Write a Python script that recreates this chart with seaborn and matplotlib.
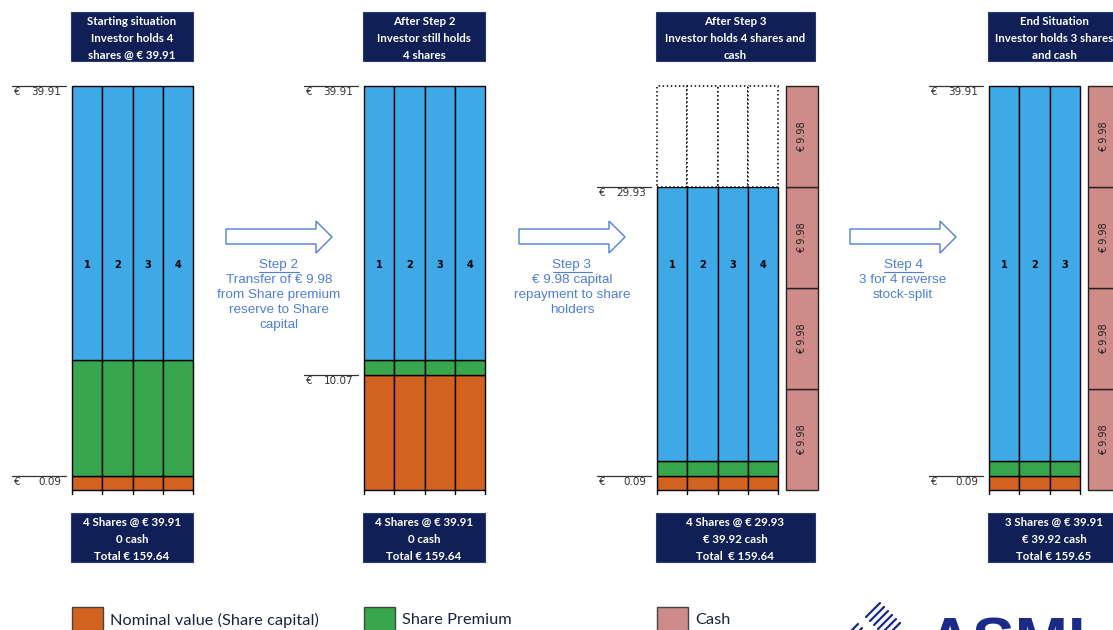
import matplotlib
matplotlib.use("Agg")
import matplotlib.pyplot as plt
import seaborn as sns
from matplotlib.patches import Rectangle, Polygon

# ---------------- data ----------------
panel_titles = [
    "Starting situation\nInvestor holds 4\nshares @ € 39.91",
    "After Step 2\nInvestor still holds\n4 shares",
    "After Step 3\nInvestor holds 4 shares and\ncash",
    "End Situation\nInvestor holds 3 shares\nand cash",
]
footer_texts = [
    "4 Shares @ € 39.91\n0 cash\nTotal € 159.64",
    "4 Shares @ € 39.91\n0 cash\nTotal € 159.64",
    "4 Shares @ € 29.93\n€ 39.92 cash\nTotal  € 159.64",
    "3 Shares @ € 39.91\n€ 39.92 cash\nTotal € 159.65",
]
share_counts = [4, 4, 4, 3]
share_price = [39.91, 39.91, 29.93, 39.91]          # top of blue block (€)
nominal_value = [0.09, 10.07, 0.09, 0.09]            # labelled nominal value (€)
nominal_drawn_top = [1.4, 11.36, 1.4, 1.4]           # schematic top of orange block
premium_drawn_top = [12.85, 12.85, 2.87, 2.87]       # schematic top of green block
removed_value_top = [None, None, 39.91, None]        # dotted (repaid) part
cash_segments = [[], [], [9.98, 9.98, 9.98, 9.98], [9.98, 9.98, 9.98, 9.98]]
step_texts = [
    ["Step 2", "Transfer of € 9.98", "from Share premium", "reserve to Share", "capital"],
    ["Step 3", "€ 9.98 capital", "repayment to share", "holders"],
    ["Step 4", "3 for 4 reverse", "stock-split"],
]
legend_labels = ["Nominal value (Share capital)", "Share Premium", "Cash"]

# ---------------- style ----------------
sns.set_theme(style="white")
plt.rcParams["font.family"] = ["Lato", "DejaVu Sans"]
c_nominal, c_premium, c_value, c_cash = sns.color_palette(
    ["#d2621f", "#37a64c", "#3fa8e7", "#cf8b88"])
navy = "#101f55"
step_blue = "#4f7fd9"

W, H = 1113, 630
fig = plt.figure(figsize=(W / 100, H / 100), dpi=100)
ax = fig.add_axes([0, 0, 1, 1])
PX = 10.12          # pixels per euro
BASE = 490          # pixel row of zero
ax.set_xlim(0, W)
ax.set_ylim((BASE - H) / PX, BASE / PX)
ax.axis("off")


def Y(p):  # layout pixel row -> data y
    return (BASE - p) / PX


panel_left = [72, 364, 657, 989]
col_w = 30.3
box_w = [122, 122, 159, 132]

for i in range(4):
    n = share_counts[i]
    xs = [panel_left[i] + j * col_w for j in range(n)]
    kw = dict(width=col_w, align="edge", edgecolor="black", linewidth=1.0, zorder=2)
    ax.bar(xs, [nominal_drawn_top[i]] * n, bottom=0, color=c_nominal, **kw)
    ax.bar(xs, [premium_drawn_top[i] - nominal_drawn_top[i]] * n,
           bottom=nominal_drawn_top[i], color=c_premium, **kw)
    ax.bar(xs, [share_price[i] - premium_drawn_top[i]] * n,
           bottom=premium_drawn_top[i], color=c_value, **kw)
    if removed_value_top[i] is not None:
        ax.bar(xs, [removed_value_top[i] - share_price[i]] * n, bottom=share_price[i],
               width=col_w, align="edge", color="white", edgecolor="black",
               linewidth=1.1, linestyle=":", zorder=2)
    # small ticks under bars
    for j in range(n + 1):
        xx = panel_left[i] + j * col_w
        ax.plot([xx, xx], [0, Y(494)], color="black", lw=1, zorder=1)
    # share numbers
    for j in range(n):
        ax.text(xs[j] + col_w / 2, Y(265), str(j + 1), ha="center", va="center",
                fontsize=7, fontweight="bold", color="black", zorder=3,
                family=["DejaVu Sans"])
    # cash column
    if cash_segments[i]:
        cx = panel_left[i] + n * col_w + 8
        bottom = 0
        for seg in cash_segments[i]:
            ax.bar([cx], [seg], bottom=bottom, width=32, align="edge", color=c_cash,
                   edgecolor="#222222", linewidth=1.0, zorder=2)
            ax.text(cx + 16, bottom + seg / 2, f"€ {seg:.2f}", rotation=90,
                    ha="center", va="center", fontsize=7, color="#222222", zorder=3,
                    family=["DejaVu Sans"])
            bottom += seg
    # level labels
    lx0, lx1 = panel_left[i] - 60, panel_left[i] - 6
    for yv, val in [(share_price[i], share_price[i]),
                    (nominal_drawn_top[i], nominal_value[i])]:
        ax.plot([lx0, lx1], [yv, yv], color="#333333", lw=0.9)
        ax.text(lx0 + 2, yv - 0.62, "€", ha="left", va="center", fontsize=7.5,
                color="#333333", family=["DejaVu Sans"])
        ax.text(lx1 - 5, yv - 0.62, f"{val:.2f}", ha="right", va="center",
                fontsize=7.5, color="#333333", family=["DejaVu Sans"])
    # header / footer boxes
    bx = panel_left[i] - 1
    for top, txt in [(12, panel_titles[i]), (513, footer_texts[i])]:
        ax.add_patch(Rectangle((bx, Y(top + 49)), box_w[i], 49 / PX,
                               facecolor=navy, edgecolor="#2b3a70", lw=0.8, zorder=2))
        for k, line in enumerate(txt.split("\n")):
            ax.text(bx + box_w[i] / 2, Y(top + 9.5 + 17 * k), line, ha="center",
                    va="center", fontsize=8.3, fontweight="bold", color="white",
                    zorder=3)

# ---------------- step arrows ----------------
arrow_left = [226, 519, 850]
fig.canvas.draw()
renderer = fig.canvas.get_renderer()
for a, x0 in enumerate(arrow_left):
    pts = [(x0, 229), (x0 + 90, 229), (x0 + 90, 221), (x0 + 106, 237),
           (x0 + 90, 253), (x0 + 90, 244), (x0, 244)]
    ax.add_patch(Polygon([(p[0], Y(p[1])) for p in pts], closed=True,
                         facecolor="white", edgecolor=step_blue, lw=1.0, zorder=2))
    cx = x0 + 53
    for k, line in enumerate(step_texts[a]):
        t = ax.text(cx, Y(265 + 15 * k), line, ha="center", va="center",
                    fontsize=9.7, color=step_blue, family=["Liberation Sans"])
        if k == 0:
            bb = t.get_window_extent(renderer)
            ax.plot([bb.x0, bb.x1], [Y(271.5), Y(271.5)], color=step_blue, lw=0.8)

# ---------------- legend ----------------
leg_x = [72, 364, 657]
for lx, lab, col in zip(leg_x, legend_labels, [c_nominal, c_premium, c_cash]):
    ax.add_patch(Rectangle((lx, Y(640)), 31, 33 / PX, facecolor=col,
                           edgecolor="#444444", lw=1.0))
    ax.text(lx + 38, Y(620), lab, ha="left", va="center", fontsize=11.8,
            color="#1c2340")

# ---------------- logo ----------------
for s in range(6):
    x1 = 866 + s * 4
    y1 = 621 + s * 4
    ax.plot([x1, x1 + 14], [Y(y1 - 4), Y(y1 - 18)], color="#1a2a86", lw=1.6)
for s in range(4):
    x1 = 846 + s * 4
    y1 = 640 + s * 4
    ax.plot([x1, x1 + 12], [Y(y1 - 4), Y(y1 - 16)], color="#1a2a86", lw=1.6)
ax.text(926, Y(617), "ASML", ha="left", va="top", fontsize=46, fontweight="bold",
        color="#1a2a86", family=["Liberation Sans"])

fig.savefig("out.png", dpi=100)
